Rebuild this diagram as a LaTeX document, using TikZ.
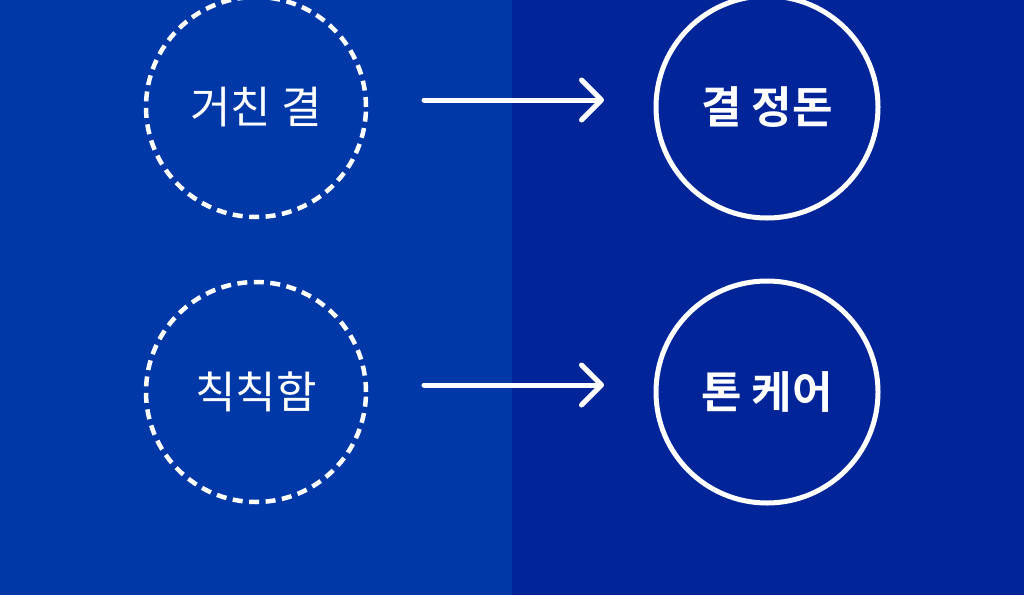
\documentclass[tikz,border=0pt]{standalone}
\usepackage{fontspec}
\newfontfamily\kr{Noto Sans CJK KR}
\newfontfamily\krb{Noto Sans CJK KR Bold}
\usetikzlibrary{arrows.meta}
\definecolor{leftbg}{RGB}{0,56,168}
\definecolor{rightbg}{RGB}{2,36,153}
\tikzset{
  dashcircle/.style={circle, draw=white, line width=4.5pt, dash pattern=on 10pt off 6.5pt, minimum size=220pt, inner sep=0pt, text=white, font=\kr\fontsize{44}{44}\selectfont},
  solidcircle/.style={circle, draw=white, line width=5pt, minimum size=222pt, inner sep=0pt, text=white, font=\krb\fontsize{44}{44}\selectfont},
  arrowline/.style={draw=white, line width=5pt, line cap=round, -{Straight Barb[length=20pt, width=40pt, line cap=round, line join=round]}}
}
\begin{document}
\begin{tikzpicture}[x=1pt, y=-1pt]
\useasboundingbox (0,0) rectangle (1024,595);
\fill[leftbg] (0,0) rectangle (512,595);
\fill[rightbg] (512,0) rectangle (1024,595);
\node[dashcircle] (a) at (256,107) {거친 결};
\node[dashcircle] (b) at (256,392) {칙칙함};
\node[solidcircle] (c) at (767,107) {결 정돈};
\node[solidcircle] (d) at (767,392) {톤 케어};
\coordinate (a1) at (424,100);
\coordinate (a2) at (604,100);
\coordinate (b1) at (424,385);
\coordinate (b2) at (604,385);
\draw[arrowline] (a1) -- (a2);
\draw[arrowline] (b1) -- (b2);
\end{tikzpicture}
\end{document}
